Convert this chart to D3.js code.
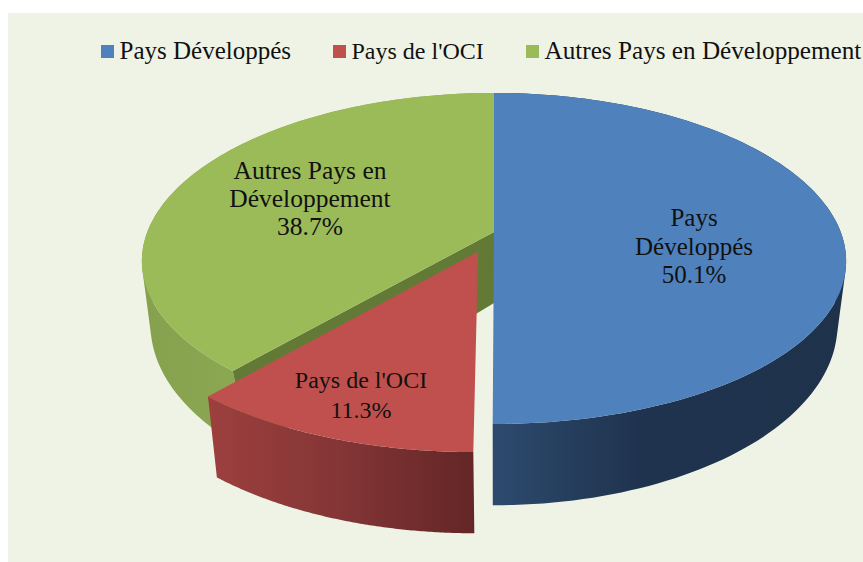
<!DOCTYPE html>
<html>
<head>
<meta charset="utf-8">
<style>
html,body{margin:0;padding:0;background:#fff;overflow:hidden}
svg{display:block}
text{font-family:"Liberation Serif",serif;fill:#111}
</style>
<script src="https://cdn.jsdelivr.net/npm/d3@7"></script>
</head>
<body>
<svg id="c" width="863" height="562"></svg>
<script>
const categories = ["Pays Développés", "Pays de l'OCI", "Autres Pays en Développement"];
const values = [50.1, 11.3, 38.7];
const valueLabels = ["50.1%", "11.3%", "38.7%"];
const sliceLabels = [["Pays", "Développés"], ["Pays de l'OCI"], ["Autres Pays en", "Développement"]];
const topColors = ["#4f81bd", "#c0504d", "#9bbb59"];
const wallStops = [
  [[492, "#2d4a6e"], [640, "#1f334e"], [846, "#1e324c"]],
  [[209, "#9c403e"], [340, "#843536"], [473, "#642626"]],
  [[141, "#86a14d"], [240, "#8da853"]]
];
const cutColor = "#637a36";
const explode = [0, 0.128, 0];

const W = 863, H = 562;
const svg = d3.select("#c");
svg.append("rect").attr("x", 8).attr("y", 13).attr("width", W - 8).attr("height", H - 13).attr("fill", "#eff3e5");

// Perspective projection of the two pie planes
const topPlane = {cy: 232, X: 346.7, Y: 161.3, k: 0.16, kx: 0.175};
const basePlane = {cy: 303, X: 341, Y: 178, k: 0.12, kx: 0.12};
const cx = 494;
function proj(plane, a, r, ox, oy) {
  const u = r * Math.sin(a) + ox, v = -r * Math.cos(a) + oy;
  return [cx + plane.X * u / (1 - plane.kx * v), plane.cy + plane.Y * v / (1 - plane.k * v)];
}
const pie = d3.pie().sort(null).startAngle(0).endAngle(2 * Math.PI)(values);
const line = d3.line();
const arcPts = (plane, s, ox, oy) => d3.range(0, 121).map(i =>
  proj(plane, s.startAngle + (s.endAngle - s.startAngle) * i / 120, 1, ox, oy));

const defs = svg.append("defs");
wallStops.forEach((stops, i) => {
  const g = defs.append("linearGradient").attr("id", "w" + i)
    .attr("gradientUnits", "userSpaceOnUse")
    .attr("x1", stops[0][0]).attr("x2", stops[stops.length - 1][0]).attr("y1", 0).attr("y2", 0);
  const t = d3.scaleLinear().domain([stops[0][0], stops[stops.length - 1][0]]).range([0, 1]);
  stops.forEach(s => g.append("stop").attr("offset", t(s[0])).attr("stop-color", s[1]));
});

function offsets(i) {
  const mid = (pie[i].startAngle + pie[i].endAngle) / 2;
  return [Math.sin(mid) * explode[i], -Math.cos(mid) * explode[i]];
}
function drawSlice(i) {
  const [ox, oy] = offsets(i);
  const s = pie[i];
  const base = i === 1 ? Object.assign({}, basePlane, {X: 355}) : basePlane;
  const topArc = arcPts(topPlane, s, ox, oy);
  const baseArc = arcPts(base, s, ox, oy);
  const g = svg.append("g");
  // Outer wall: one path of like-oriented quads, so overlaps never cancel out
  const wall = d3.range(0, topArc.length - 1).map(j =>
    line(d3.polygonHull([topArc[j], topArc[j + 1], baseArc[j + 1], baseArc[j]])) + "Z").join("");
  g.append("path").attr("d", wall).attr("fill", `url(#w${i})`).attr("fill-rule", "nonzero");
  // Cut wall, visible on the green slice next to the exploded one
  if (i === 2) {
    const c0 = proj(topPlane, 0, 0, ox, oy), c1 = proj(basePlane, 0, 0, ox, oy);
    g.append("path").attr("d", line([c0, topArc[0], baseArc[0], c1]) + "Z").attr("fill", cutColor);
  }
  // Top face
  g.append("path").attr("d", line([proj(topPlane, 0, 0, ox, oy)].concat(topArc)) + "Z")
    .attr("fill", topColors[i]);
}
drawSlice(2);
drawSlice(0);
drawSlice(1);

// Slice labels
const labelAnchors = [[694, 226], [361, 388], [310, 179]];
const lineSteps = [28.5, 30, 28];
const labelSizes = [25, 24, 25.5];
sliceLabels.forEach((lines, i) => {
  lines.concat([valueLabels[i]]).forEach((t, j) => {
    svg.append("text").attr("x", labelAnchors[i][0]).attr("y", labelAnchors[i][1] + j * lineSteps[i])
      .attr("text-anchor", "middle").attr("font-size", labelSizes[i]).text(t);
  });
});

// Legend
const legendX = [101, 333, 526];
const legendSizes = [25, 24, 25.2];
categories.forEach((c, i) => {
  svg.append("rect").attr("x", legendX[i]).attr("y", 45).attr("width", 13).attr("height", 13).attr("fill", topColors[i]);
  svg.append("text").attr("x", legendX[i] + 18.5).attr("y", 59).attr("font-size", legendSizes[i]).text(c);
});
</script>
</body>
</html>
